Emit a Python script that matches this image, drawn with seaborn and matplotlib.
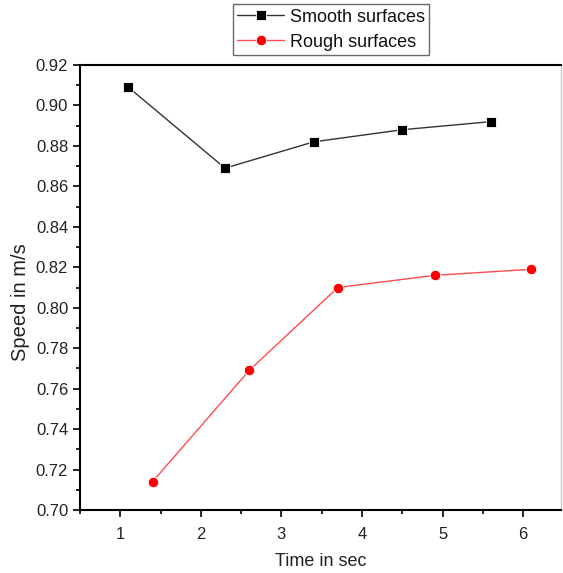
import matplotlib
matplotlib.use("Agg")
import matplotlib.pyplot as plt
from matplotlib.ticker import MultipleLocator
import seaborn as sns
import pandas as pd

smooth_time = [1.1, 2.3, 3.4, 4.5, 5.6]
smooth_speed = [0.909, 0.869, 0.882, 0.888, 0.892]
rough_time = [1.4, 2.6, 3.7, 4.9, 6.1]
rough_speed = [0.714, 0.769, 0.810, 0.816, 0.819]
x_ticks = [1, 2, 3, 4, 5, 6]
y_ticks = [0.70, 0.72, 0.74, 0.76, 0.78, 0.80, 0.82, 0.84, 0.86, 0.88, 0.90, 0.92]

sns.set_style("white")
plt.rcParams['font.family'] = ['Liberation Sans', 'DejaVu Sans']

df_s = pd.DataFrame({"t": smooth_time, "v": smooth_speed})
df_r = pd.DataFrame({"t": rough_time, "v": rough_speed})

fig = plt.figure(figsize=(5.63, 5.73), dpi=100)
ax = fig.add_axes([80/563, 63/573, (561-80)/563, (510-65)/573])

sns.lineplot(data=df_s, x="t", y="v", ax=ax, color="#333333", lw=1.0,
             marker="s", markersize=6.5, markerfacecolor="black",
             markeredgecolor="white", markeredgewidth=0.6, label="Smooth surfaces")
sns.lineplot(data=df_r, x="t", y="v", ax=ax, color="#ff4d4d", lw=1.0,
             marker="o", markersize=7.5, markerfacecolor="red",
             markeredgecolor="white", markeredgewidth=0.6, label="Rough surfaces")

ax.set_xlim(0.5, 6.47)
ax.set_ylim(0.70, 0.92)
ax.set_xticks(x_ticks)
ax.set_yticks(y_ticks)
ax.set_yticklabels([f"{v:.2f}" for v in y_ticks])
ax.xaxis.set_minor_locator(MultipleLocator(0.5))
ax.yaxis.set_minor_locator(MultipleLocator(0.01))
ax.tick_params(axis="both", which="major", direction="out", length=5, width=1.2,
               labelsize=12, colors="black", labelcolor="#222222", bottom=True, left=True)
ax.tick_params(axis="both", which="minor", direction="out", length=3, width=1.2,
               colors="black", bottom=True, left=True)
ax.tick_params(axis="x", pad=7)

for s in ["left", "bottom", "top"]:
    ax.spines[s].set_color("black")
    ax.spines[s].set_linewidth(1.5)
ax.spines["right"].set_color("#cccccc")
ax.spines["right"].set_linewidth(1.0)

ax.set_xlabel("Time in sec", fontsize=13, color="#222222", labelpad=8)
ax.set_ylabel("Speed in m/s", fontsize=14.5, color="#222222")
ax.yaxis.set_label_coords(-0.104, 0.467)

leg = ax.legend(loc="lower center", bbox_to_anchor=((331 - 80)/481, 1.022),
                frameon=True, fancybox=False, fontsize=13, handlelength=2.6,
                handletextpad=0.3, borderpad=0.25, labelspacing=0.45,
                borderaxespad=0)
leg.get_frame().set_edgecolor("#444444")
leg.get_frame().set_linewidth(1.0)
for t in leg.get_texts():
    t.set_color("#111111")

fig.savefig("out.png", dpi=100, facecolor="white")
